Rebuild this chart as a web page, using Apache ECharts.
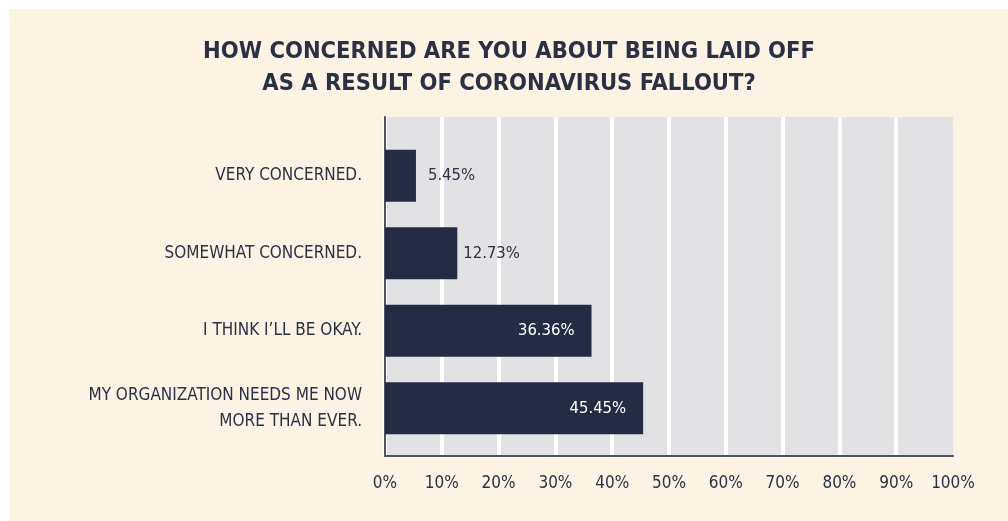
<!DOCTYPE html>
<html>
<head>
<meta charset="utf-8">
<script src="https://cdn.jsdelivr.net/npm/echarts@6/dist/echarts.min.js"></script>
<style>
html,body{margin:0;padding:0;background:#ffffff;}
#chart{width:1008px;height:521px;}
</style>
</head>
<body>
<div id="chart"></div>
<script>
var titleLines = ['HOW CONCERNED ARE YOU ABOUT BEING LAID OFF', 'AS A RESULT OF CORONAVIRUS FALLOUT?'];
var categories = ['VERY CONCERNED.', 'SOMEWHAT CONCERNED.', 'I THINK I\u2019LL BE OKAY.', 'MY ORGANIZATION NEEDS ME NOW\nMORE THAN EVER.'];
var values = [5.45, 12.73, 36.36, 45.45];
var labelInside = [false, false, true, true];
var xTicks = [0, 10, 20, 30, 40, 50, 60, 70, 80, 90, 100];

var FONT = "'DejaVu Sans Condensed', 'Liberation Sans Narrow', sans-serif";
var INK = '#2b3144';
var BAR = '#232c43';

var barData = values.map(function (v, i) {
  return {
    value: v,
    label: labelInside[i]
      ? { position: 'insideRight', distance: 17, color: '#ffffff' }
      : { position: 'right', distance: i === 0 ? 12 : 6, color: INK }
  };
});

var gridColors = xTicks.map(function (t, i) { return i === xTicks.length - 1 ? 'rgba(0,0,0,0)' : '#ffffff'; });

var chart = echarts.init(document.getElementById('chart'));
chart.setOption({
  backgroundColor: '#ffffff',
  animation: false,
  graphic: [{
    type: 'rect', z: -10, silent: true,
    shape: { x: 9, y: 9, width: 999, height: 512 },
    style: { fill: '#fcf3e4' }
  }],
  title: {
    text: titleLines.join('\n'),
    left: 504, textAlign: 'center', top: 31,
    textStyle: { fontFamily: FONT, fontWeight: 'bold', fontSize: 23.5, color: INK, lineHeight: 32 }
  },
  grid: [
    { left: 385, right: 55, top: 117, bottom: 65, show: true, backgroundColor: '#e2e2e5', borderWidth: 0 },
    { left: 385, right: 55, top: 137, bottom: 74 }
  ],
  xAxis: [
    {
      gridIndex: 0, type: 'value', min: 0, max: 100, interval: 10,
      axisLine: { show: true, lineStyle: { color: '#4e5363', width: 2 } },
      axisTick: { show: false },
      splitLine: { show: true, lineStyle: { color: gridColors, width: 4 } },
      axisLabel: {
        margin: 19, fontFamily: FONT, fontSize: 17, color: INK,
        formatter: function (v) { return xTicks.indexOf(v) >= 0 ? v + '%' : ''; }
      }
    },
    { gridIndex: 1, type: 'value', min: 0, max: 100, show: false }
  ],
  yAxis: [
    {
      gridIndex: 0, type: 'value', min: 0, max: 1,
      axisLine: { show: true, onZero: false, lineStyle: { color: '#4e5363', width: 2 } },
      axisTick: { show: false }, axisLabel: { show: false }, splitLine: { show: false }
    },
    {
      gridIndex: 1, type: 'category', data: categories, inverse: true,
      axisLine: { show: false }, axisTick: { show: false },
      axisLabel: { margin: 23, fontFamily: FONT, fontSize: 17, color: INK, lineHeight: 26, align: 'right' }
    }
  ],
  series: [{
    type: 'bar', xAxisIndex: 1, yAxisIndex: 1,
    data: barData, barWidth: 52,
    itemStyle: { color: BAR },
    label: {
      show: true, fontFamily: FONT, fontSize: 16.5,
      formatter: function (p) { return p.value.toFixed(2) + '%'; }
    }
  }]
});
</script>
</body>
</html>
